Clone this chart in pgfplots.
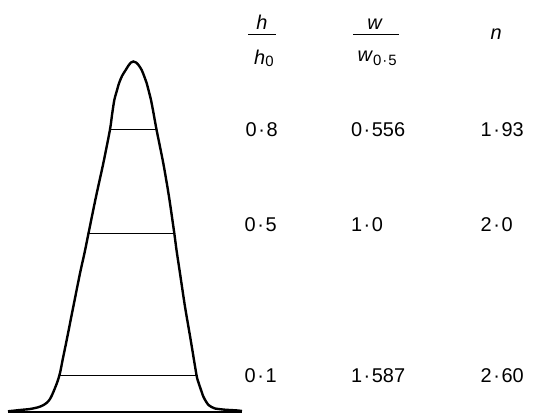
\documentclass[border=0pt]{standalone}
\usepackage{pgfplots}
\pgfplotsset{compat=1.18}
\usepackage{fontspec}
\setmainfont{Liberation Sans}
\newcommand{\dt}{\kern1.6pt\textperiodcentered\kern1.6pt}
\newcommand{\bigf}{\fontsize{20}{24}\selectfont}
\newcommand{\subf}{\fontsize{15}{18}\selectfont}
\begin{document}
\begin{tikzpicture}
\begin{axis}[hide axis, scale only axis, width=534bp, height=413bp,
  xmin=0, xmax=534, ymin=0, ymax=413, y dir=reverse, clip=false]
\path (rel axis cs:0,0) rectangle (rel axis cs:1,1);
% peak profile
\addplot[black, line width=2.4pt, smooth, tension=0.45] coordinates {
(8,411.3)(20,410)(30,409)(38,407.3)(43,405.3)(47,402.6)(50,399)(52.5,394)(55,388)(57.5,381.5)(60,373)
(63,358)(66.7,340)(73.3,306.7)(80,273.3)(84.5,253)(88.5,233.3)(96,196.7)(103.3,163.3)(110,129.5)
(112,115)(114.3,100)(116.5,92)(119,83.3)(122,76)(125.7,70)(128.5,65.5)(131,62.5)(133.3,61.5)
(136,62.5)(138.5,65)(141.7,70)(144.3,76.5)(146.7,83.3)(149,92)(151,100)(153.5,113)(156.5,129.5)
(163.3,163.3)(169,196.7)(174.3,233.3)(176.5,250)(180,273.3)(185,306.7)(190.7,340)(196.5,375)
(198.5,382.5)(200.5,388.5)(203.3,396.5)(206,401.5)(208.5,405)(211.5,407)(215,408.5)(225,409.7)(236.7,410.4)(242,411)
};
% width lines
\addplot[black, line width=1.5pt] coordinates {(110,129.5)(156.5,129.5)};
\addplot[black, line width=1.5pt] coordinates {(88.5,233.5)(174.3,233.5)};
\addplot[black, line width=1.5pt] coordinates {(60,375.5)(196.5,375.5)};
% baseline
\addplot[black, line width=2pt] coordinates {(8,411.5)(242,411.5)};
% headers
\node[inner sep=0pt, anchor=base] at (axis cs:262,30) {\bigf\textit{h}};
\node[inner sep=0pt] at (axis cs:262,34.3) {\rule{28bp}{1.3bp}};
\node[inner sep=0pt, anchor=base west] at (axis cs:254,64.5) {\bigf\textit{h}\raisebox{-1.8bp}{\subf 0}};
\node[inner sep=0pt, anchor=base] at (axis cs:375,30) {\bigf\textit{w}};
\node[inner sep=0pt] at (axis cs:376.3,34.3) {\rule{46bp}{1.3bp}};
\node[inner sep=0pt, anchor=base west] at (axis cs:357.5,62) {\bigf\textit{w}\raisebox{-4bp}{\subf 0\kern1pt\textperiodcentered\kern1pt5}};
\node[inner sep=0pt, anchor=base west] at (axis cs:490.5,40) {\bigf\textit{n}};
% rows
\node[inner sep=0pt, anchor=base west] at (axis cs:245.5,136.7) {\bigf 0\dt 8};
\node[inner sep=0pt, anchor=base west] at (axis cs:350.8,136.7) {\bigf 0\dt 556};
\node[inner sep=0pt, anchor=base west] at (axis cs:480.5,136.7) {\bigf 1\dt 93};
\node[inner sep=0pt, anchor=base west] at (axis cs:244.5,231.7) {\bigf 0\dt 5};
\node[inner sep=0pt, anchor=base west] at (axis cs:350.8,231.7) {\bigf 1\dt 0};
\node[inner sep=0pt, anchor=base west] at (axis cs:480.5,231.7) {\bigf 2\dt 0};
\node[inner sep=0pt, anchor=base west] at (axis cs:244.5,382) {\bigf 0\dt 1};
\node[inner sep=0pt, anchor=base west] at (axis cs:350.8,382) {\bigf 1\dt 587};
\node[inner sep=0pt, anchor=base west] at (axis cs:480.5,382) {\bigf 2\dt 60};
\end{axis}
\end{tikzpicture}
\end{document}
